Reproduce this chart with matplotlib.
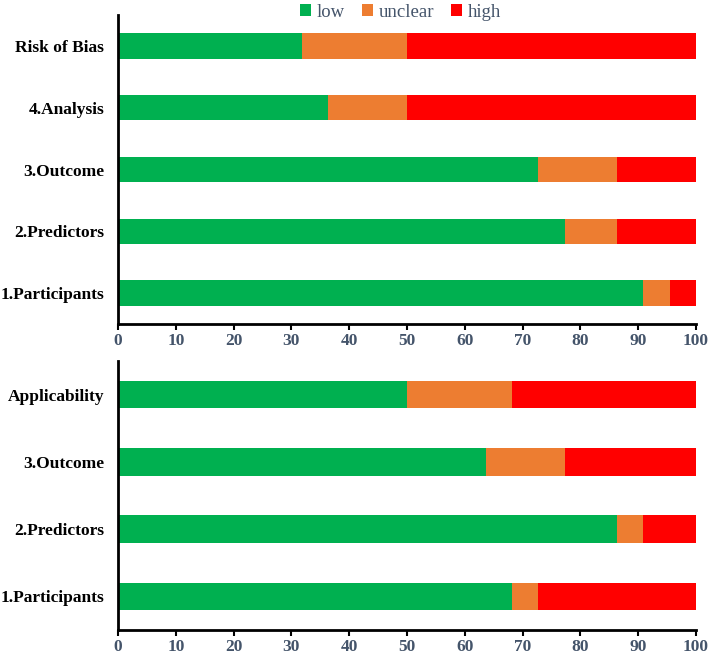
import matplotlib
matplotlib.use("Agg")
import matplotlib.pyplot as plt

# percentages of 22 studies per domain
bias_domains = ['1.Participants', '2.Predictors', '3.Outcome', '4.Analysis', 'Risk of Bias']
bias_low = [90.9, 77.3, 72.7, 36.4, 31.8]
bias_unclear = [4.6, 9.1, 13.7, 13.6, 18.2]
bias_high = [4.5, 13.6, 13.6, 50.0, 50.0]

appl_domains = ['1.Participants', '2.Predictors', '3.Outcome', 'Applicability']
appl_low = [68.2, 86.4, 63.6, 50.0]
appl_unclear = [4.5, 4.5, 13.7, 18.2]
appl_high = [27.3, 9.1, 22.7, 31.8]

series_names = ['low', 'unclear', 'high']
colors = ['#00B050', '#ED7D31', '#FF0000']
tick_color = '#44546A'

plt.rcParams['font.family'] = ['Liberation Serif', 'DejaVu Serif']

fig = plt.figure(figsize=(7.08, 6.55), dpi=100)
ax_top = fig.add_axes([0.1667, 0.5053, 0.8164, 0.4718])
ax_bot = fig.add_axes([0.1667, 0.0382, 0.8164, 0.4107])


def draw_panel(ax, domains, low, unclear, high):
    ypos = list(range(len(domains)))
    left = [0] * len(domains)
    bars = []
    for vals, col, name in zip([low, unclear, high], colors, series_names):
        b = ax.barh(ypos, vals, left=left, height=0.41, color=col, label=name)
        bars.append(b)
        left = [l + v for l, v in zip(left, vals)]
    ax.set_xlim(0, 100)
    ax.set_ylim(-0.5, len(domains) - 0.5)
    ax.set_yticks(ypos)
    ax.set_yticklabels(domains, fontsize=12.5, fontweight='bold')
    ax.set_xticks(range(0, 101, 10))
    for lab in ax.get_xticklabels():
        lab.set_fontsize(12.5)
        lab.set_fontweight('bold')
        lab.set_color(tick_color)
    ax.tick_params(axis='y', length=0, pad=10)
    ax.tick_params(axis='x', length=4, width=1.5, direction='out', pad=2.5)
    ax.spines['top'].set_visible(False)
    ax.spines['right'].set_visible(False)
    ax.spines['left'].set_linewidth(2)
    ax.spines['bottom'].set_linewidth(2)
    return bars


bars = draw_panel(ax_top, bias_domains, bias_low, bias_unclear, bias_high)
draw_panel(ax_bot, appl_domains, appl_low, appl_unclear, appl_high)

leg = fig.legend(bars, series_names, loc='upper center', bbox_to_anchor=(0.566, 1.02),
                 ncol=3, frameon=False, fontsize=13.5, handlelength=0.6, handleheight=0.6,
                 handletextpad=0.3, columnspacing=0.9)
for t in leg.get_texts():
    t.set_color(tick_color)

fig.savefig('out.png', dpi=100)
